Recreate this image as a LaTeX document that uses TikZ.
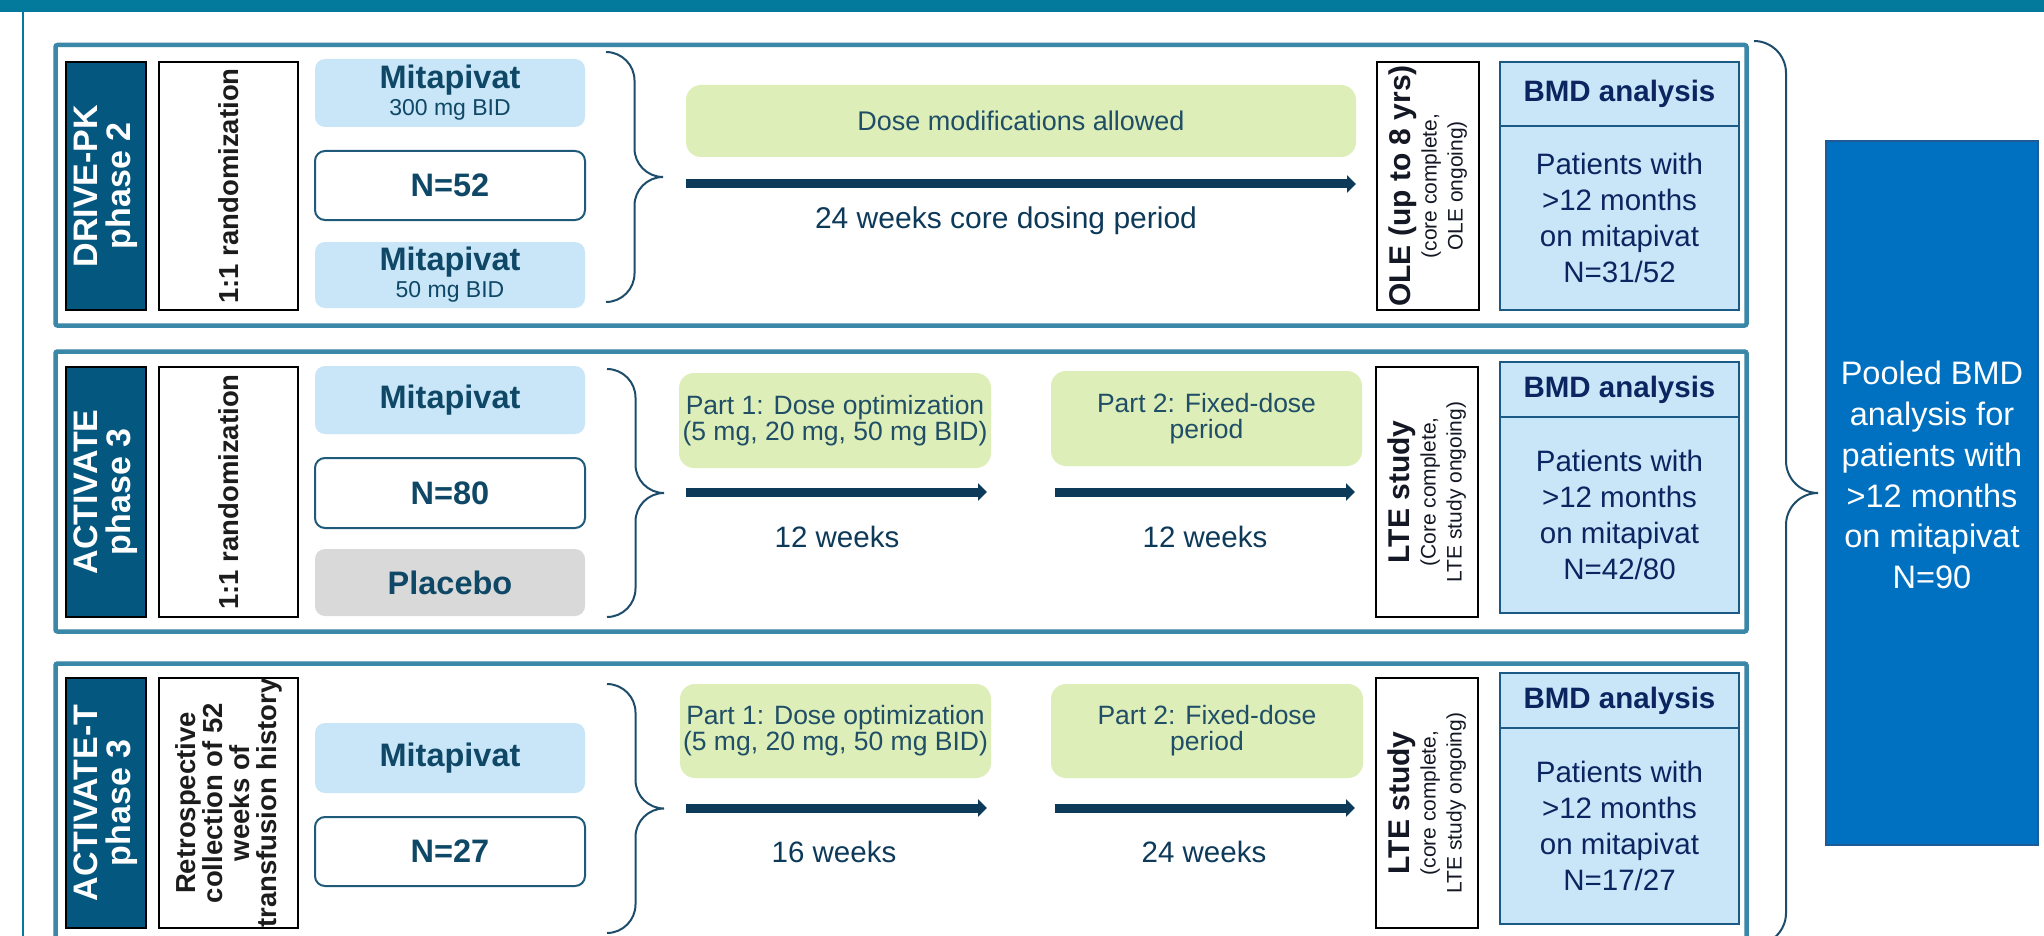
\documentclass[tikz,border=0pt]{standalone}
\usepackage{fontspec}
\setmainfont{Liberation Sans}
\usetikzlibrary{positioning,arrows.meta}

\definecolor{bandteal}{RGB}{3,122,155}
\definecolor{panelteal}{RGB}{58,135,167}
\definecolor{studyblue}{RGB}{4,87,126}
\definecolor{armblue}{RGB}{201,230,248}
\definecolor{armtext}{RGB}{15,72,102}
\definecolor{countline}{RGB}{31,90,122}
\definecolor{placebogray}{RGB}{217,217,217}
\definecolor{randtext}{RGB}{28,28,28}
\definecolor{dosegreen}{RGB}{221,238,184}
\definecolor{dosetext}{RGB}{31,78,102}
\definecolor{timeline}{RGB}{14,58,90}
\definecolor{exttext}{RGB}{20,24,36}
\definecolor{bmdline}{RGB}{28,90,134}
\definecolor{bmdtext}{RGB}{10,37,96}
\definecolor{pooledblue}{RGB}{0,112,192}
\definecolor{pooledline}{RGB}{30,90,150}
\definecolor{bracecol}{RGB}{30,77,107}

% right curly brace: left x, top y, bottom y, half width
\newcommand{\sidebrace}[4]{%
  \draw[brace line] (#1,#2)
    .. controls ({#1+0.55*#4},#2) and ({#1+#4},{#2+0.45*#4}) .. ({#1+#4},{#2+#4})
    -- ({#1+#4},{(#2+#3)/2-#4})
    .. controls ({#1+#4},{(#2+#3)/2-0.45*#4}) and ({#1+1.45*#4},{(#2+#3)/2}) .. ({#1+2*#4},{(#2+#3)/2})
    .. controls ({#1+1.45*#4},{(#2+#3)/2}) and ({#1+#4},{(#2+#3)/2+0.45*#4}) .. ({#1+#4},{(#2+#3)/2+#4})
    -- ({#1+#4},{#3-#4})
    .. controls ({#1+#4},{#3-0.45*#4}) and ({#1+0.55*#4},#3) .. (#1,#3);}

\begin{document}
\begin{tikzpicture}[x=1pt,y=-1pt,
    every node/.style={outer sep=0pt,inner sep=0pt,align=center},
    panel/.style={draw=panelteal,line width=4.5pt,rounded corners=2pt},
    study node/.style={rotate=90,fill=studyblue,draw=black,line width=1.5pt,text=white,
      minimum width=248pt,minimum height=80pt,font=\fontsize{34}{33}\selectfont\bfseries},
    rand node/.style={rotate=90,fill=white,draw=black,line width=2.5pt,text=randtext,
      minimum width=248pt,minimum height=139pt,font=\fontsize{27.5}{27}\selectfont\bfseries},
    arm node/.style={fill=armblue,rounded corners=10pt,minimum width=270pt,text=armtext,
      font=\fontsize{32.5}{27}\selectfont\bfseries},
    count node/.style={draw=countline,line width=2pt,fill=white,rounded corners=10pt,
      minimum width=270pt,minimum height=69pt,text=armtext,font=\fontsize{32.5}{30}\selectfont\bfseries},
    placebo node/.style={arm node,fill=placebogray},
    dose node/.style={fill=dosegreen,rounded corners=15pt,text=dosetext,font=\fontsize{26.5}{26}\selectfont},
    timeline arrow/.style={draw=timeline,line width=9pt,-{Triangle[length=9pt,width=17pt]}},
    week node/.style={anchor=base,text=timeline,font=\fontsize{29.5}{29}\selectfont},
    ext node/.style={rotate=90,draw=black,line width=2.5pt,fill=white,minimum width=248pt,
      minimum height=102pt,text=exttext,font=\fontsize{21}{26}\selectfont},
    bmd head/.style={draw=bmdline,line width=2pt,fill=armblue,minimum width=239pt,text=bmdtext,
      font=\fontsize{29.5}{28}\selectfont\bfseries},
    bmd body/.style={draw=bmdline,line width=2pt,fill=armblue,minimum width=239pt,text=bmdtext,
      font=\fontsize{29.5}{36}\selectfont},
    pooled node/.style={draw=pooledline,line width=1.5pt,fill=pooledblue,minimum width=212pt,minimum height=704pt},
    pooled text/.style={text=white,font=\fontsize{32.5}{40.8}\selectfont},
    brace line/.style={draw=bracecol,line width=2pt}]
  \useasboundingbox (0,0) rectangle (2044,936);
  \clip (0,0) rectangle (2044,936);
  \fill[white] (0,0) rectangle (2044,936);
  \fill[bandteal] (0,0) rectangle (2044,12);
  \draw[bandteal,line width=2pt] (23,12) -- (23,936);

  \foreach \top/\bot in {45/325.5,351.5/631.5,663.5/946}
    \draw[panel] (55.5,\top) rectangle (1746.5,\bot);

  % DRIVE-PK
  \node[study node] (drive) at (106,186) {DRIVE-PK\\phase 2};
  \node[rand node] (rand1) at (228.5,186) {1:1 randomization};
  \node[arm node,minimum height=68pt] (hi1) at (450,93)
    {Mitapivat\\{\fontsize{23}{27}\selectfont\mdseries 300 mg BID}};
  \node[count node] (n1) at (450,185.5) {N=52};
  \node[arm node,minimum height=66pt] (lo1) at (450,275)
    {Mitapivat\\{\fontsize{23}{27}\selectfont\mdseries 50 mg BID}};
  \sidebrace{606}{52}{302}{28.5}
  \node[dose node,minimum width=670pt,minimum height=72pt,font=\fontsize{27}{27}\selectfont] (mod1) at (1021,121)
    {Dose modifications allowed};
  \coordinate (t1s) at (686,184);
  \coordinate (t1e) at (1356,184);
  \draw[timeline arrow] (t1s) -- (t1e);
  \node[week node,font=\fontsize{30}{30}\selectfont] (wk1) at (1006,228) {24 weeks core dosing period};
  \node[ext node] (ole1) at (1428,186)
    {{\fontsize{30}{26}\selectfont\bfseries OLE (up to 8 yrs)}\\(core complete,\\OLE ongoing)};
  \node[bmd head,minimum height=64pt] (bmd1) at (1619.5,94) {BMD analysis};
  \node[bmd body,minimum height=184pt,below=0pt of bmd1] (pts1)
    {Patients with\\>12 months\\on mitapivat\\N=31/52};

  % ACTIVATE
  \node[study node,minimum width=250pt] (act) at (106,492) {ACTIVATE\\phase 3};
  \node[rand node,minimum width=250pt] (rand2) at (228.5,492) {1:1 randomization};
  \node[arm node,minimum height=68pt] (mit2) at (450,400) {Mitapivat};
  \node[count node,minimum height=70pt] (n2) at (450,493) {N=80};
  \node[placebo node,minimum height=67pt] (pla2) at (450,582.5) {Placebo};
  \sidebrace{607}{369}{617}{28.5}
  \node[dose node,minimum width=312pt,minimum height=95pt] (opt2) at (835,420.5)
    {Part 1: Dose optimization\\(5 mg, 20 mg, 50 mg BID)};
  \node[dose node,minimum width=311pt,minimum height=95pt] (fix2) at (1206.5,418.5)
    {Part 2: Fixed-dose\\period};
  \coordinate (t2a) at (686,492);
  \coordinate (t2b) at (987,492);
  \coordinate (t2c) at (1055,492);
  \coordinate (t2d) at (1355,492);
  \draw[timeline arrow] (t2a) -- (t2b);
  \draw[timeline arrow] (t2c) -- (t2d);
  \node[week node] (wk2a) at (837,547) {12 weeks};
  \node[week node] (wk2b) at (1205,547) {12 weeks};
  \node[ext node,minimum width=250pt] (lte2) at (1427,492)
    {{\fontsize{30}{26}\selectfont\bfseries LTE study}\\(Core complete,\\LTE study ongoing)};
  \node[bmd head,minimum height=55pt] (bmd2) at (1619.5,389.5) {BMD analysis};
  \node[bmd body,minimum height=196pt,below=0pt of bmd2] (pts2)
    {Patients with\\>12 months\\on mitapivat\\N=42/80};

  % ACTIVATE-T
  \node[study node,minimum width=250pt] (actt) at (106,803) {ACTIVATE-T\\phase 3};
  \node[rand node,minimum width=250pt] (rand3) at (228.5,803)
    {Retrospective\\collection of 52\\weeks of\\transfusion history};
  \node[arm node,minimum height=70pt] (mit3) at (450,758) {Mitapivat};
  \node[count node,minimum height=69pt] (n3) at (450,851.5) {N=27};
  \sidebrace{607}{684}{933}{28.5}
  \node[dose node,minimum width=311pt,minimum height=94pt] (opt3) at (835.5,731)
    {Part 1: Dose optimization\\(5 mg, 20 mg, 50 mg BID)};
  \node[dose node,minimum width=312pt,minimum height=94pt] (fix3) at (1207,731)
    {Part 2: Fixed-dose\\period};
  \coordinate (t3a) at (686,808);
  \coordinate (t3b) at (987,808);
  \coordinate (t3c) at (1055,808);
  \coordinate (t3d) at (1355,808);
  \draw[timeline arrow] (t3a) -- (t3b);
  \draw[timeline arrow] (t3c) -- (t3d);
  \node[week node] (wk3a) at (834,862) {16 weeks};
  \node[week node] (wk3b) at (1204,862) {24 weeks};
  \node[ext node,minimum width=250pt] (lte3) at (1427,803)
    {{\fontsize{30}{26}\selectfont\bfseries LTE study}\\(core complete,\\LTE study ongoing)};
  \node[bmd head,minimum height=55pt] (bmd3) at (1619.5,700.5) {BMD analysis};
  \node[bmd body,minimum height=196pt,below=0pt of bmd3] (pts3)
    {Patients with\\>12 months\\on mitapivat\\N=17/27};

  % pooled analysis
  \sidebrace{1754}{41}{945}{32}
  \node[pooled node] (pool) at (1932,493) {};
  \node[pooled text] (pooltxt) at ([yshift=18pt]pool.center)
    {Pooled BMD\\analysis for\\patients with\\>12 months\\on mitapivat\\N=90};
\end{tikzpicture}
\end{document}
